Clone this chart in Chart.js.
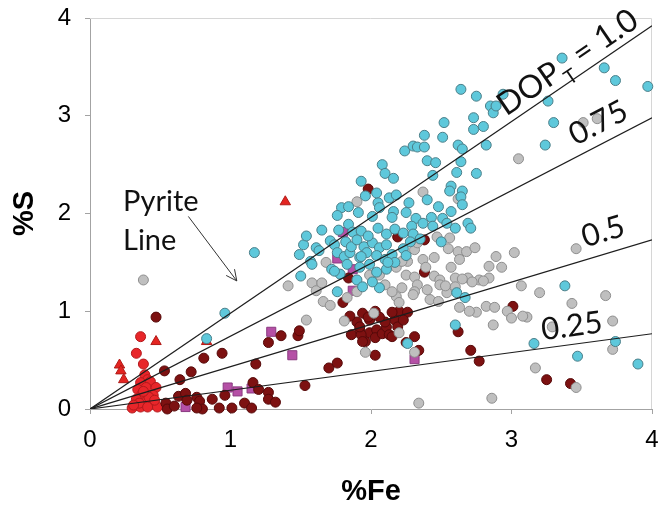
<!DOCTYPE html>
<html>
<head>
<meta charset="utf-8">
<script src="https://cdn.jsdelivr.net/npm/chart.js@4.4.1/dist/chart.umd.min.js"></script>
<style>
  html, body { margin: 0; padding: 0; background: #fff; }
  canvas { display: block; }
</style>
</head>
<body>
<canvas id="chart-1" width="661" height="510"></canvas>
<script>
// ticks on both axes
const xTicks = [0, 1, 2, 3, 4];
const yTicks = [0, 1, 2, 3, 4];

// DOP reference lines from the origin, %S reached at %Fe = 4
const dopNames = ["1.0", "0.75", "0.5", "0.25"];
const dopAtFe4 = [3.92, 2.98, 1.73, 0.77];

// [%Fe, %S] per sample group
const cyanPts = [
  [0.96,0.98],[0.83,0.72],[1.17,1.60],[1.50,1.36],[1.49,1.58],[1.52,1.68],[1.54,1.77],[1.65,1.83],
  [1.57,1.51],[1.58,1.48],[1.61,1.65],[1.63,1.62],[1.71,1.72],[1.74,1.68],[1.76,1.60],[1.72,1.43],
  [1.78,1.38],[1.81,1.56],[1.85,1.60],[1.83,1.48],[1.82,1.71],[1.77,1.83],[1.84,1.89],[1.87,1.81],
  [1.93,1.82],[1.86,1.66],[1.90,1.73],[1.95,1.66],[1.92,1.55],[1.92,1.45],[1.99,1.48],[1.97,1.60],
  [2.01,1.70],[1.98,1.77],[2.05,1.85],[2.11,1.79],[2.17,1.84],[2.06,1.65],[2.11,1.68],[2.04,1.57],
  [2.10,1.53],[2.15,1.58],[2.17,1.50],[2.04,1.40],[2.11,1.43],[1.79,2.06],[1.84,2.07],[1.76,1.98],
  [1.91,2.01],[2.01,1.97],[2.16,2.02],[2.15,1.96],[2.05,2.11],[2.06,2.06],[2.13,2.16],[2.18,2.19],
  [1.96,2.18],[2.04,2.21],[1.93,2.33],[2.08,2.50],[2.10,2.41],[2.16,2.36],[2.24,2.64],[2.30,2.69],
  [2.33,2.68],[2.38,2.68],[2.38,2.80],[2.52,2.93],[2.51,2.78],[2.62,2.70],[2.65,2.66],[2.64,3.27],
  [2.75,3.20],[2.94,3.22],[2.85,3.10],[2.87,3.03],[2.89,3.10],[2.73,2.98],[2.73,2.86],[2.80,2.89],
  [2.82,2.70],[2.40,2.54],[2.46,2.52],[2.64,2.53],[2.61,2.42],[2.75,2.41],[2.44,2.39],[2.57,2.28],
  [2.65,2.23],[2.64,2.17],[2.65,2.09],[2.56,2.23],[2.27,2.11],[2.40,2.14],[2.25,2.01],[2.32,1.95],
  [2.37,1.90],[2.43,1.96],[2.48,2.07],[2.51,1.95],[2.57,2.02],[2.44,1.87],[2.54,1.90],[2.60,1.85],
  [2.69,1.90],[2.71,1.85],[2.29,1.87],[2.23,1.80],[2.30,1.79],[2.35,1.74],[2.28,1.71],[2.23,1.64],
  [2.25,1.57],[2.50,1.71],[3.26,3.15],[3.30,2.93],[3.24,2.70],[3.36,3.59],[3.66,3.49],[3.74,3.36],
  [3.97,3.30],[2.61,1.19],[2.67,1.14],[2.60,0.86],[2.26,0.67],[3.16,0.67],[3.38,1.26],[3.47,0.54],
  [3.74,0.69],[3.90,0.46],[1.76,1.20],[1.90,1.32],[1.94,1.25],[2.06,1.24],[2.01,1.30],[1.74,1.41],
  [1.93,1.56],[2.12,1.50]
];

const grayPts = [
  [0.38,1.32],[1.41,1.26],[1.58,1.29],[1.61,1.21],[1.66,1.10],[1.71,1.06],[1.54,0.91],[1.81,0.90],
  [2.02,0.98],[1.96,0.58],[2.18,1.15],[1.90,2.12],[2.37,2.22],[2.62,2.15],[3.05,2.56],[3.51,2.93],
  [3.61,2.97],[3.46,1.64],[3.20,1.19],[3.43,1.08],[3.67,1.16],[3.72,0.90],[3.29,0.84],[3.72,0.61],
  [3.46,0.22],[3.17,0.42],[2.34,0.06],[2.86,0.11],[3.02,1.60],[2.89,1.56],[2.84,1.46],[2.47,1.76],
  [2.56,1.75],[2.55,1.64],[2.62,1.61],[2.68,1.61],[2.74,1.65],[2.63,1.53],[2.57,1.45],[2.37,1.53],
  [2.31,1.63],[2.33,1.70],[2.25,1.37],[2.31,1.35],[2.45,1.36],[2.49,1.32],[2.60,1.34],[2.69,1.34],
  [2.77,1.32],[2.84,1.34],[2.80,1.31],[2.72,1.30],[3.07,1.26],[3.11,0.94],[3.08,0.95],[2.87,0.86],
  [2.97,1.00],[3.00,0.93],[2.82,1.05],[2.88,1.04],[2.75,0.99],[2.70,1.00],[2.63,1.04],[2.40,1.22],
  [2.42,1.12],[2.48,1.10],[2.54,1.19],[2.49,1.27],[2.33,1.27],[2.31,1.20],[2.22,1.24],[2.20,1.09],
  [2.26,1.51],[2.20,0.78],[2.31,0.58],[1.99,1.37],[2.06,1.37],[1.68,1.50],[2.30,1.17],[2.10,1.27],
  [2.15,1.20],[1.90,1.20],[2.18,1.45],[2.22,1.51],[1.83,1.14],[1.65,1.29],[2.65,1.33],[2.53,1.26],
  [2.60,1.25],[2.93,1.45],[2.39,1.45],[2.45,1.55]
];

const darkPts = [
  [0.47,0.94],[0.53,0.39],[0.64,0.30],[0.72,0.38],[0.81,0.52],[0.94,0.57],[1.18,0.46],[1.27,0.68],
  [1.36,0.75],[1.48,0.75],[1.49,0.80],[1.53,0.24],[1.70,0.42],[1.76,0.47],[0.54,0.06],[0.55,0.00],
  [0.60,0.03],[0.63,0.13],[0.68,0.16],[0.69,0.09],[0.76,0.12],[0.78,0.08],[0.80,0.00],[0.76,0.01],
  [0.87,0.10],[0.92,0.01],[0.96,0.14],[1.01,0.01],[1.10,0.06],[1.15,0.01],[1.16,0.27],[1.20,0.20],
  [1.27,0.17],[1.27,0.10],[1.32,0.07],[1.80,1.09],[1.98,2.25],[1.84,1.34],[2.19,1.76],[2.38,1.73],
  [2.38,1.40],[3.01,1.05],[2.62,0.79],[2.31,0.74],[2.25,0.68],[2.34,0.60],[2.71,0.60],[2.77,0.49],
  [3.25,0.30],[3.42,0.26],[2.03,0.55],[2.20,1.00],[2.26,0.99],[1.90,0.89],[1.94,0.98],[2.03,1.00],
  [1.92,0.81],[1.86,0.76],[1.96,0.69],[1.99,0.78],[2.04,0.81],[2.03,0.73],[2.08,0.77],[2.11,0.84],
  [2.13,0.76],[2.17,0.91],[2.15,0.99],[2.19,0.84],[1.99,0.91],[1.98,0.94],[2.10,0.89],[1.93,0.76],
  [1.94,0.69],[2.15,0.74],[2.06,0.94],[1.92,0.84],[2.23,0.91],[1.85,0.95]
];

const redPts = [
  [0.36,0.74],[0.33,0.57],[0.38,0.46],[0.39,0.35],[0.41,0.30],[0.36,0.27],[0.43,0.28],[0.34,0.20],
  [0.40,0.22],[0.47,0.22],[0.37,0.15],[0.45,0.14],[0.33,0.10],[0.40,0.08],[0.44,0.05],[0.30,0.01],
  [0.36,0.02],[0.48,0.02],[0.42,0.12],[0.35,0.06],[0.46,0.09],[0.38,0.18],[0.31,0.04],[0.41,0.02]
];

const triPts = [[0.21,0.45],[0.22,0.39],[0.24,0.30],[0.47,0.69],[0.83,0.69],[1.39,2.12]];

const sqPts = [
  [0.68,0.02],[0.98,0.22],[1.05,0.18],[1.15,0.21],[1.29,0.79],[1.44,0.55],
  [1.87,1.21],[2.31,0.51],[1.80,1.81],[1.76,1.54],[1.87,1.43]
];

const toXY = (arr) => arr.map((p) => ({ x: p[0], y: p[1] }));

function markers(pts, style, fill, edge, radius) {
  return {
    data: toXY(pts),
    pointStyle: style,
    pointRadius: radius,
    pointBackgroundColor: fill,
    pointBorderColor: edge,
    pointBorderWidth: 1,
    clip: false,
  };
}

const lineSets = dopAtFe4.map((s) => ({
  data: [{ x: 0, y: 0 }, { x: 4, y: s }],
  showLine: true,
  borderColor: "#1e1e1e",
  borderWidth: 1.2,
  pointRadius: 0,
}));

// label placement along each line: start at %Fe = at, lifted gap px off the line
const lineLabelPos = [
  { at: 2.99, gap: 7, size: 32 },
  { at: 3.49, gap: 10, size: 31 },
  { at: 3.55, gap: 12, size: 31 },
  { at: 3.23, gap: 8, size: 31 },
];

const decor = {
  id: "decor",
  beforeDatasetsDraw(chart) {
    const { ctx, chartArea: a } = chart;
    ctx.save();
    ctx.strokeStyle = "#d6d6d6";
    ctx.lineWidth = 1;
    ctx.beginPath();
    ctx.moveTo(a.left, a.top + 0.5);
    ctx.lineTo(a.right - 0.5, a.top + 0.5);
    ctx.lineTo(a.right - 0.5, a.bottom);
    ctx.stroke();
    ctx.restore();
  },
  afterDatasetsDraw(chart) {
    const { ctx } = chart;
    const xs = chart.scales.x, ys = chart.scales.y;
    const x0 = xs.getPixelForValue(0), y0 = ys.getPixelForValue(0);

    ctx.save();
    ctx.fillStyle = "#111";
    ctx.textBaseline = "alphabetic";
    ctx.textAlign = "left";

    lineLabelPos.forEach((p, i) => {
      const x1 = xs.getPixelForValue(4), y1 = ys.getPixelForValue(dopAtFe4[i]);
      const ang = Math.atan2(y1 - y0, x1 - x0);
      const px = xs.getPixelForValue(p.at);
      const py = ys.getPixelForValue((p.at * dopAtFe4[i]) / 4);
      ctx.save();
      ctx.translate(px, py);
      ctx.rotate(ang);
      ctx.translate(0, -p.gap);
      ctx.font = p.size + "px Lato";
      if (i === 0) {
        // DOP with subscript T
        let w = 0;
        ctx.fillText("DOP", 0, 0);
        w += ctx.measureText("DOP").width;
        ctx.font = "20px Lato";
        ctx.fillText("T", w + 1, 10);
        w += ctx.measureText("T").width + 2;
        ctx.font = p.size + "px Lato";
        ctx.fillText(" = " + dopNames[i], w, 0);
      } else {
        ctx.fillText(dopNames[i], 0, 0);
      }
      ctx.restore();
    });

    // Pyrite Line note with arrow
    ctx.font = "29px Lato";
    const tx = xs.getPixelForValue(0.235);
    ctx.fillText("Pyrite", tx, ys.getPixelForValue(2.03));
    ctx.fillText("Line", tx, ys.getPixelForValue(1.63));

    const ax = xs.getPixelForValue(0.7), ay = ys.getPixelForValue(1.97);
    const bx = xs.getPixelForValue(1.045), by = ys.getPixelForValue(1.31);
    const a = Math.atan2(by - ay, bx - ax);
    ctx.strokeStyle = "#333";
    ctx.lineWidth = 1;
    ctx.beginPath();
    ctx.moveTo(ax, ay);
    ctx.lineTo(bx, by);
    ctx.moveTo(bx - 12 * Math.cos(a - 0.45), by - 12 * Math.sin(a - 0.45));
    ctx.lineTo(bx, by);
    ctx.lineTo(bx - 12 * Math.cos(a + 0.45), by - 12 * Math.sin(a + 0.45));
    ctx.stroke();
    ctx.restore();
  },
};

const tickFont = { family: "Liberation Sans", size: 24 };
const titleFont = { family: "Liberation Sans", size: 29, weight: "bold" };
const axisGray = "#a3a3a3";

const ctx1 = document.getElementById("chart-1").getContext("2d");
const myChart = new Chart(ctx1, {
  type: "scatter",
  data: {
    datasets: [
      ...lineSets,
      markers(cyanPts, "circle", "#5ec8db", "#4a7e88", 5),
      markers(grayPts, "circle", "#bfbfbf", "#8e8e8e", 5),
      markers(darkPts, "circle", "#7d1111", "#560909", 5),
      markers(redPts, "circle", "#e8262a", "#b3191c", 5),
      markers(triPts, "triangle", "#e42521", "#b01a17", 6),
      markers(sqPts, "rect", "#b550a6", "#8a3a80", 6.4),
    ],
  },
  options: {
    responsive: false,
    animation: false,
    layout: { padding: { top: 18, right: 9, left: 0, bottom: 0 } },
    plugins: { legend: { display: false }, tooltip: { enabled: false } },
    scales: {
      x: {
        type: "linear",
        min: 0,
        max: 4,
        afterFit: (s) => { s.height = 101; s.paddingLeft = 0; s.paddingRight = 0; },
        afterBuildTicks: (s) => { s.ticks = xTicks.map((v) => ({ value: v })); },
        grid: { display: true, drawOnChartArea: false, drawTicks: true, tickLength: 5, color: axisGray },
        border: { display: true, color: axisGray, width: 1 },
        ticks: { font: tickFont, color: "#000", padding: 12, maxRotation: 0 },
        title: { display: true, text: "%Fe", font: titleFont, color: "#000", padding: { top: 0, bottom: 1 } },
      },
      y: {
        type: "linear",
        min: 0,
        max: 4,
        afterFit: (s) => { s.width = 90; s.paddingTop = 0; s.paddingBottom = 0; },
        afterBuildTicks: (s) => { s.ticks = yTicks.map((v) => ({ value: v })); },
        grid: { display: true, drawOnChartArea: false, drawTicks: true, tickLength: 5, color: axisGray },
        border: { display: true, color: axisGray, width: 1 },
        ticks: { font: tickFont, color: "#000", padding: 14 },
        title: { display: true, text: "%S", font: titleFont, color: "#000", padding: { top: 8, bottom: 0 } },
      },
    },
  },
  plugins: [decor],
});
</script>
</body>
</html>
